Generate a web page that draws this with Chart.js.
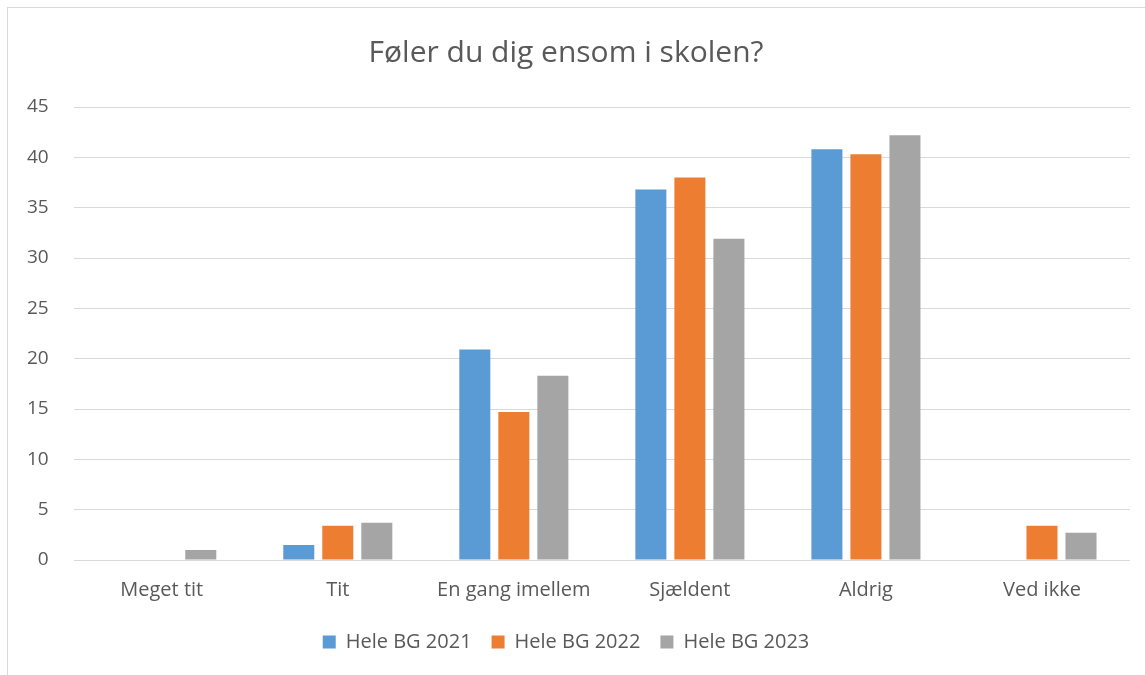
<!DOCTYPE html>
<html>
<head>
<meta charset="utf-8">
<script src="https://cdn.jsdelivr.net/npm/chart.js@4.4.0/dist/chart.umd.min.js"></script>
<style>
  html, body { margin: 0; padding: 0; background: #fff; overflow: hidden; }
  #frame {
    position: absolute; left: 7px; top: 7px;
    width: 1160px; height: 690px;
    border: 1px solid #d9d9d9; box-sizing: border-box;
  }
  #wrap { position: absolute; left: -8px; top: -8px; width: 1145px; height: 675px; }
</style>
</head>
<body>
<div id="frame"><div id="wrap"><canvas id="chart" width="1145" height="675"></canvas></div></div>
<script>
// kategorier og serier
const categories = ['Meget tit', 'Tit', 'En gang imellem', 'Sjældent', 'Aldrig', 'Ved ikke'];
const series2021 = [0, 1.5, 20.9, 36.8, 40.8, 0];
const series2022 = [0, 3.4, 14.7, 38.0, 40.3, 3.4];
const series2023 = [1.0, 3.7, 18.3, 31.9, 42.2, 2.7];
const seriesNames = ['Hele BG 2021', 'Hele BG 2022', 'Hele BG 2023'];
const seriesColors = ['#5b9bd5', '#ed7d31', '#a5a5a5'];
const yTicks = [0, 5, 10, 15, 20, 25, 30, 35, 40, 45];

const fontFamily = '"Open Sans", "Liberation Sans", sans-serif';
const textColor = '#595959';

const datasets = [series2021, series2022, series2023].map((data, i) => ({
  label: seriesNames[i],
  data: data,
  backgroundColor: seriesColors[i],
  borderWidth: 0,
  categoryPercentage: 0.665,
  barPercentage: 0.795
}));

new Chart(document.getElementById('chart'), {
  type: 'bar',
  data: { labels: categories, datasets: datasets },
  options: {
    responsive: false,
    animation: false,
    layout: { padding: { left: 2, right: 15, top: 10, bottom: 13 } },
    plugins: {
      title: {
        display: true,
        text: 'Føler du dig ensom i skolen?',
        color: textColor,
        font: { family: fontFamily, size: 30, weight: 'normal' },
        padding: { top: 25, bottom: 36 }
      },
      legend: {
        position: 'bottom',
        labels: {
          color: textColor,
          font: { family: fontFamily, size: 20 },
          boxWidth: 13,
          boxHeight: 13,
          padding: 20
        }
      },
      tooltip: { enabled: false }
    },
    scales: {
      x: {
        grid: { display: false },
        border: { display: false },
        ticks: {
          color: textColor,
          font: { family: fontFamily, size: 20 },
          padding: 10
        }
      },
      y: {
        min: 0,
        max: 45,
        afterBuildTicks: (axis) => { axis.ticks = yTicks.map(v => ({ value: v })); },
        grid: { color: '#d9d9d9', lineWidth: 1, drawTicks: false },
        border: { display: false },
        ticks: {
          color: textColor,
          font: { family: fontFamily, size: 19 },
          padding: 25
        }
      }
    }
  }
});
</script>
</body>
</html>
